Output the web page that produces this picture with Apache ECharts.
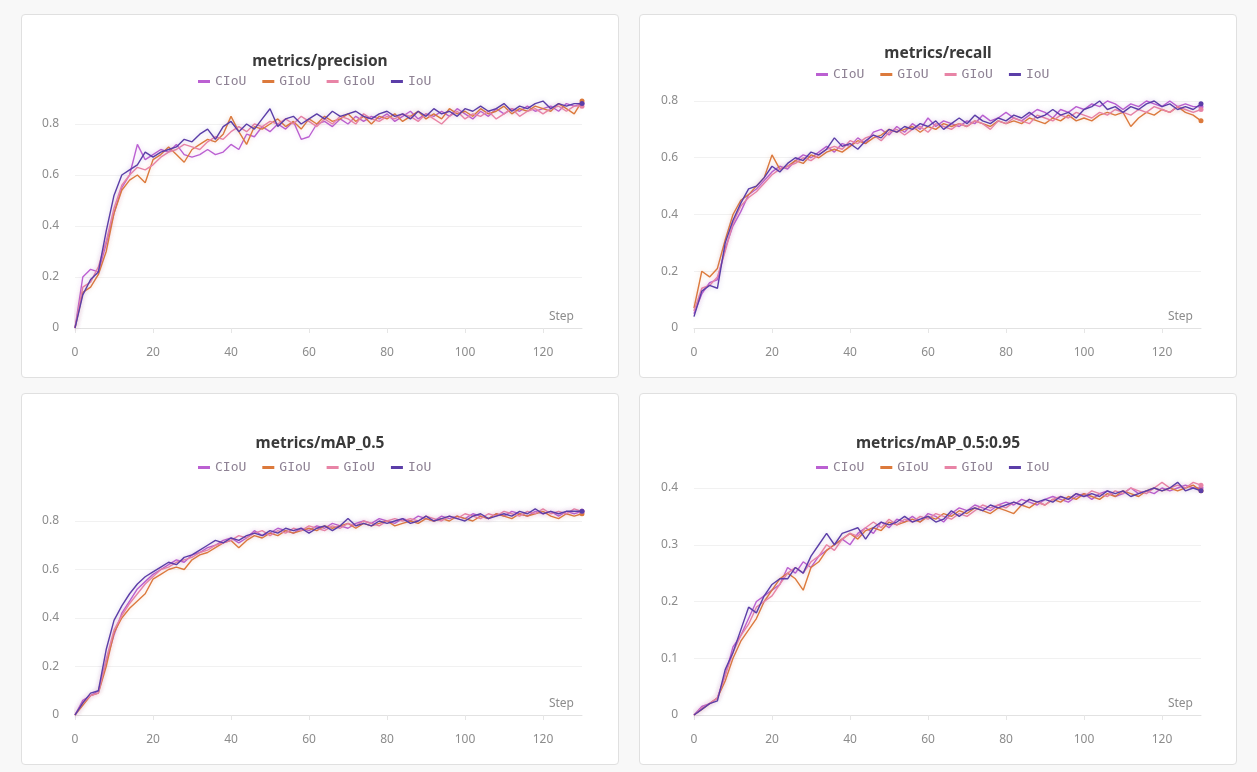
<!DOCTYPE html>
<html>
<head>
<meta charset="utf-8">
<script src="https://cdn.jsdelivr.net/npm/echarts@6/dist/echarts.min.js"></script>
<style>
  html, body { margin: 0; padding: 0; background: #f8f8f8; width: 1257px; height: 772px; overflow: hidden; }
  .panel { position: absolute; box-sizing: border-box; background: #fff; border: 1px solid #e0e0e0; border-radius: 4px; }
</style>
</head>
<body>
<div id="p1" class="panel" style="left:21px;top:14px;width:598px;height:364px;"></div>
<div id="p2" class="panel" style="left:639px;top:14px;width:598px;height:364px;"></div>
<div id="p3" class="panel" style="left:21px;top:393px;width:598px;height:372px;"></div>
<div id="p4" class="panel" style="left:639px;top:393px;width:598px;height:372px;"></div>
<script>
const steps = [0,2,4,6,8,10,12,14,16,18,20,
  22,24,26,28,30,32,34,36,38,40,42,
  44,46,48,50,52,54,56,58,60,62,64,
  66,68,70,72,74,76,78,80,82,84,86,
  88,90,92,94,96,98,100,102,104,106,108,
  110,112,114,116,118,120,122,124,126,128,130];
const seriesNames = ['CIoU', 'GIoU', 'GIoU', 'IoU'];
const seriesColors = ['#bb60d2', '#dc7a3c', '#e884a6', '#5b3ea8'];
const xTicks = [0, 20, 40, 60, 80, 100, 120];

// metrics/precision
const precisionCIoU = [0,0.2,0.23,0.22,0.33,0.45,0.55,0.6,0.72,0.66,0.68,
  0.7,0.69,0.72,0.68,0.67,0.68,0.7,0.68,0.69,0.72,0.7,
  0.76,0.75,0.79,0.77,0.8,0.78,0.81,0.74,0.75,0.8,0.81,
  0.79,0.82,0.8,0.83,0.81,0.83,0.82,0.84,0.81,0.83,0.85,
  0.82,0.84,0.83,0.85,0.83,0.86,0.84,0.82,0.85,0.83,0.86,
  0.84,0.86,0.85,0.87,0.85,0.86,0.87,0.85,0.88,0.87,0.88];
const precisionGIoUa = [0,0.14,0.16,0.21,0.3,0.45,0.54,0.58,0.6,0.57,0.66,
  0.68,0.71,0.68,0.65,0.7,0.72,0.74,0.73,0.76,0.83,0.77,
  0.72,0.79,0.78,0.8,0.82,0.79,0.81,0.78,0.82,0.8,0.83,
  0.81,0.82,0.84,0.81,0.83,0.8,0.83,0.82,0.84,0.81,0.83,
  0.85,0.82,0.84,0.82,0.86,0.84,0.85,0.83,0.86,0.84,0.85,
  0.87,0.84,0.86,0.85,0.87,0.86,0.85,0.88,0.86,0.84,0.89];
const precisionGIoUb = [0,0.16,0.18,0.24,0.34,0.47,0.56,0.6,0.63,0.62,0.64,
  0.67,0.69,0.7,0.72,0.71,0.7,0.73,0.75,0.74,0.77,0.79,
  0.77,0.8,0.79,0.81,0.8,0.82,0.8,0.83,0.81,0.79,0.82,
  0.8,0.83,0.82,0.8,0.84,0.82,0.81,0.83,0.82,0.84,0.83,
  0.81,0.84,0.82,0.8,0.83,0.85,0.82,0.84,0.83,0.85,0.82,
  0.84,0.86,0.83,0.85,0.86,0.84,0.86,0.87,0.85,0.87,0.87];
const precisionIoU = [0,0.13,0.19,0.22,0.38,0.52,0.6,0.62,0.64,0.69,0.67,
  0.69,0.7,0.71,0.74,0.73,0.76,0.78,0.74,0.79,0.81,0.77,
  0.8,0.78,0.82,0.86,0.79,0.82,0.83,0.8,0.82,0.84,0.82,
  0.85,0.83,0.84,0.85,0.83,0.82,0.84,0.85,0.83,0.84,0.82,
  0.85,0.83,0.86,0.84,0.85,0.83,0.86,0.85,0.87,0.85,0.86,
  0.88,0.85,0.87,0.86,0.88,0.89,0.86,0.88,0.87,0.88,0.88];

// metrics/recall
const recallCIoU = [0.05,0.12,0.16,0.17,0.28,0.36,0.41,0.47,0.49,0.52,0.55,
  0.57,0.56,0.59,0.61,0.6,0.62,0.64,0.62,0.65,0.64,0.67,
  0.65,0.69,0.7,0.68,0.71,0.69,0.72,0.7,0.74,0.71,0.73,
  0.72,0.71,0.73,0.72,0.75,0.73,0.74,0.76,0.74,0.73,0.75,
  0.77,0.76,0.74,0.77,0.76,0.78,0.77,0.79,0.78,0.8,0.79,
  0.77,0.79,0.78,0.8,0.79,0.78,0.8,0.78,0.79,0.78,0.78];
const recallGIoUa = [0.07,0.2,0.18,0.21,0.31,0.4,0.45,0.47,0.5,0.53,0.61,
  0.56,0.57,0.59,0.58,0.61,0.6,0.62,0.63,0.62,0.64,0.66,
  0.65,0.67,0.68,0.7,0.69,0.7,0.71,0.69,0.71,0.7,0.72,
  0.71,0.72,0.71,0.73,0.72,0.71,0.73,0.72,0.73,0.72,0.74,
  0.73,0.72,0.74,0.73,0.75,0.73,0.74,0.73,0.75,0.76,0.75,
  0.76,0.71,0.74,0.76,0.75,0.77,0.76,0.78,0.76,0.75,0.73];
const recallGIoUb = [0.06,0.14,0.15,0.18,0.27,0.37,0.43,0.46,0.48,0.51,0.54,
  0.56,0.57,0.58,0.6,0.59,0.61,0.63,0.64,0.63,0.66,0.65,
  0.67,0.68,0.66,0.69,0.7,0.68,0.7,0.71,0.69,0.72,0.71,
  0.7,0.72,0.71,0.73,0.72,0.7,0.73,0.72,0.74,0.73,0.72,
  0.75,0.74,0.73,0.75,0.74,0.76,0.75,0.74,0.76,0.75,0.77,
  0.76,0.75,0.77,0.76,0.78,0.77,0.76,0.78,0.77,0.76,0.77];
const recallIoU = [0.04,0.13,0.15,0.14,0.3,0.38,0.44,0.49,0.5,0.53,0.57,
  0.55,0.58,0.6,0.59,0.62,0.61,0.63,0.67,0.64,0.65,0.63,
  0.66,0.68,0.67,0.7,0.69,0.71,0.7,0.72,0.71,0.73,0.7,
  0.72,0.74,0.72,0.75,0.73,0.72,0.74,0.73,0.75,0.74,0.76,
  0.74,0.75,0.77,0.75,0.76,0.74,0.77,0.78,0.8,0.77,0.78,
  0.76,0.78,0.77,0.79,0.8,0.78,0.79,0.77,0.78,0.77,0.79];

// metrics/mAP_0.5
const map50CIoU = [0,0.06,0.08,0.1,0.22,0.33,0.42,0.47,0.52,0.55,0.58,
  0.6,0.62,0.64,0.63,0.66,0.67,0.69,0.7,0.72,0.73,0.71,
  0.73,0.76,0.74,0.75,0.77,0.76,0.75,0.77,0.76,0.78,0.77,
  0.79,0.78,0.77,0.79,0.8,0.79,0.81,0.8,0.79,0.81,0.8,
  0.82,0.81,0.8,0.82,0.81,0.82,0.81,0.83,0.82,0.81,0.83,
  0.82,0.84,0.83,0.82,0.84,0.83,0.84,0.82,0.84,0.83,0.84];
const map50GIoUa = [0,0.04,0.08,0.09,0.2,0.34,0.4,0.44,0.47,0.5,0.56,
  0.58,0.6,0.61,0.6,0.64,0.66,0.67,0.69,0.71,0.72,0.69,
  0.72,0.74,0.73,0.75,0.74,0.76,0.75,0.76,0.77,0.76,0.78,
  0.77,0.78,0.79,0.77,0.79,0.78,0.79,0.8,0.78,0.79,0.8,
  0.79,0.81,0.8,0.81,0.8,0.82,0.81,0.8,0.82,0.81,0.83,
  0.82,0.81,0.83,0.82,0.83,0.84,0.82,0.81,0.83,0.82,0.83];
const map50GIoUb = [0,0.05,0.08,0.09,0.23,0.35,0.41,0.46,0.5,0.54,0.57,
  0.6,0.61,0.63,0.64,0.65,0.67,0.68,0.7,0.71,0.72,0.74,
  0.73,0.75,0.76,0.74,0.76,0.75,0.77,0.76,0.78,0.77,0.76,
  0.78,0.77,0.79,0.78,0.8,0.79,0.78,0.8,0.81,0.8,0.81,
  0.8,0.82,0.81,0.8,0.82,0.81,0.83,0.82,0.81,0.83,0.82,
  0.84,0.83,0.82,0.84,0.83,0.85,0.83,0.84,0.83,0.85,0.84];
const map50IoU = [0,0.05,0.09,0.1,0.27,0.39,0.45,0.5,0.54,0.57,0.59,
  0.61,0.63,0.62,0.65,0.66,0.68,0.7,0.72,0.71,0.73,0.72,
  0.74,0.75,0.74,0.76,0.75,0.77,0.76,0.77,0.75,0.77,0.78,
  0.76,0.78,0.81,0.78,0.79,0.78,0.8,0.79,0.8,0.81,0.79,
  0.8,0.82,0.8,0.81,0.82,0.81,0.8,0.82,0.83,0.81,0.82,
  0.83,0.82,0.84,0.83,0.85,0.83,0.84,0.83,0.84,0.84,0.84];

// metrics/mAP_0.5:0.95
const map95CIoU = [0,0.015,0.02,0.03,0.07,0.12,0.14,0.17,0.2,0.21,0.22,
  0.23,0.26,0.25,0.27,0.26,0.28,0.29,0.3,0.31,0.3,0.32,
  0.33,0.32,0.34,0.33,0.345,0.34,0.35,0.34,0.355,0.35,0.34,
  0.355,0.365,0.36,0.37,0.365,0.36,0.37,0.375,0.37,0.38,0.375,
  0.37,0.38,0.385,0.38,0.375,0.385,0.39,0.38,0.39,0.395,0.385,
  0.39,0.4,0.39,0.395,0.39,0.4,0.395,0.4,0.405,0.4,0.4];
const map95GIoUa = [0,0.01,0.02,0.03,0.06,0.1,0.13,0.15,0.17,0.2,0.22,
  0.24,0.25,0.24,0.22,0.26,0.27,0.29,0.3,0.31,0.32,0.31,
  0.325,0.33,0.325,0.34,0.335,0.34,0.345,0.34,0.35,0.345,0.355,
  0.35,0.36,0.355,0.365,0.36,0.355,0.365,0.36,0.355,0.37,0.365,
  0.375,0.37,0.38,0.375,0.385,0.38,0.39,0.385,0.38,0.39,0.385,
  0.395,0.39,0.385,0.395,0.4,0.395,0.4,0.395,0.4,0.405,0.395];
const map95GIoUb = [0,0.012,0.02,0.03,0.07,0.11,0.14,0.16,0.19,0.2,0.21,
  0.23,0.25,0.26,0.25,0.27,0.28,0.3,0.29,0.31,0.32,0.315,
  0.33,0.34,0.33,0.345,0.335,0.345,0.34,0.35,0.345,0.355,0.35,
  0.345,0.355,0.35,0.36,0.37,0.365,0.37,0.365,0.375,0.37,0.38,
  0.375,0.37,0.38,0.385,0.38,0.39,0.385,0.395,0.39,0.385,0.395,
  0.39,0.4,0.395,0.39,0.4,0.41,0.4,0.405,0.4,0.41,0.405];
const map95IoU = [0,0.01,0.02,0.025,0.08,0.11,0.15,0.19,0.18,0.21,0.23,
  0.24,0.24,0.26,0.25,0.28,0.3,0.32,0.3,0.32,0.325,0.33,
  0.31,0.33,0.34,0.335,0.34,0.35,0.34,0.345,0.35,0.34,0.345,
  0.36,0.35,0.36,0.365,0.36,0.37,0.365,0.37,0.375,0.37,0.38,
  0.375,0.38,0.375,0.385,0.38,0.39,0.385,0.39,0.385,0.395,0.39,
  0.395,0.385,0.39,0.395,0.4,0.395,0.4,0.41,0.395,0.4,0.395];

const panels = [
  { id: 'p1', title: 'metrics/precision', values: [precisionCIoU, precisionGIoUa, precisionGIoUb, precisionIoU],
    yMax: 0.92, yInterval: 0.2, titleTop: 34, legendTop: 55, grid: { left: 53, top: 78.4, height: 234.6 } },
  { id: 'p2', title: 'metrics/recall', values: [recallCIoU, recallGIoUa, recallGIoUb, recallIoU],
    yMax: 0.85, yInterval: 0.2, titleTop: 26, legendTop: 48, grid: { left: 54, top: 71.8, height: 241.2 } },
  { id: 'p3', title: 'metrics/mAP_0.5', values: [map50CIoU, map50GIoUa, map50GIoUb, map50IoU],
    yMax: 0.88, yInterval: 0.2, titleTop: 37, legendTop: 62, grid: { left: 53, top: 107.6, height: 213.4 } },
  { id: 'p4', title: 'metrics/mAP_0.5:0.95', values: [map95CIoU, map95GIoUa, map95GIoUb, map95IoU],
    yMax: 0.42, yInterval: 0.1, titleTop: 37, legendTop: 62, grid: { left: 54, top: 82.65, height: 238.35 } }
];

const axisFont = 'Noto Sans, sans-serif';
const legendIds = ['CIoU', 'GIoU_a', 'GIoU_b', 'IoU'];

panels.forEach(function (p) {
  const chart = echarts.init(document.getElementById(p.id), null, { renderer: 'canvas' });
  const last = steps.length - 1;
  const series = p.values.map(function (vals, si) {
    return {
      name: legendIds[si],
      type: 'line',
      data: steps.map(function (s, i) {
        if (i === last) {
          return { value: [s, vals[i]], symbol: 'circle', symbolSize: 5 };
        }
        return [s, vals[i]];
      }),
      symbol: 'none',
      clip: false,
      smooth: false,
      z: si === 3 ? 5 : 3 + si * 0.1,
      color: seriesColors[si],
      lineStyle: { width: 1.4, color: seriesColors[si], shadowColor: seriesColors[si] + '44', shadowBlur: 5 },
      itemStyle: { color: seriesColors[si] },
      emphasis: { disabled: true },
      animation: false
    };
  });
  chart.setOption({
    animation: false,
    title: {
      text: p.title, left: 'center', top: p.titleTop,
      textStyle: { fontFamily: axisFont, fontSize: 15.5, fontWeight: 'bold', color: '#3a3a3a' }
    },
    legend: {
      left: 171, top: p.legendTop,
      data: legendIds,
      formatter: function (name) { return seriesNames[legendIds.indexOf(name)]; },
      icon: 'rect', itemWidth: 12, itemHeight: 3, itemGap: 16,
      textStyle: { fontFamily: 'DejaVu Sans Mono, monospace', fontSize: 13, color: '#8e8294' },
      selectedMode: false
    },
    grid: { left: p.grid.left, top: p.grid.top, width: 507, height: p.grid.height, containLabel: false, outerBoundsMode: 'none' },
    xAxis: {
      type: 'value', min: 0, max: 130, interval: 20,
      name: 'Step', nameLocation: 'end', nameGap: -8,
      nameTextStyle: { fontFamily: axisFont, fontSize: 12, color: '#8c8c8c', align: 'right', verticalAlign: 'bottom', padding: [0, 0, 5, 0] },
      axisLine: { show: true, lineStyle: { color: '#e2e2e2', width: 1 } },
      axisTick: { show: true, length: 5, lineStyle: { color: '#e6e6e6' } },
      axisLabel: { fontFamily: axisFont, fontSize: 12, color: '#8c8c8c', margin: 19, showMaxLabel: false,
        formatter: function (v) { return xTicks.indexOf(v) >= 0 ? String(v) : ''; } },
      splitLine: { show: false }
    },
    yAxis: {
      type: 'value', min: 0, max: p.yMax, interval: p.yInterval,
      axisLine: { show: false }, axisTick: { show: false },
      axisLabel: { fontFamily: axisFont, fontSize: 12, color: '#8c8c8c', margin: 16, showMaxLabel: false },
      splitLine: { show: true, showMinLine: false, showMaxLine: false, lineStyle: { color: '#f1f1f1', width: 1 } }
    },
    series: series
  });
});
</script>
</body>
</html>
